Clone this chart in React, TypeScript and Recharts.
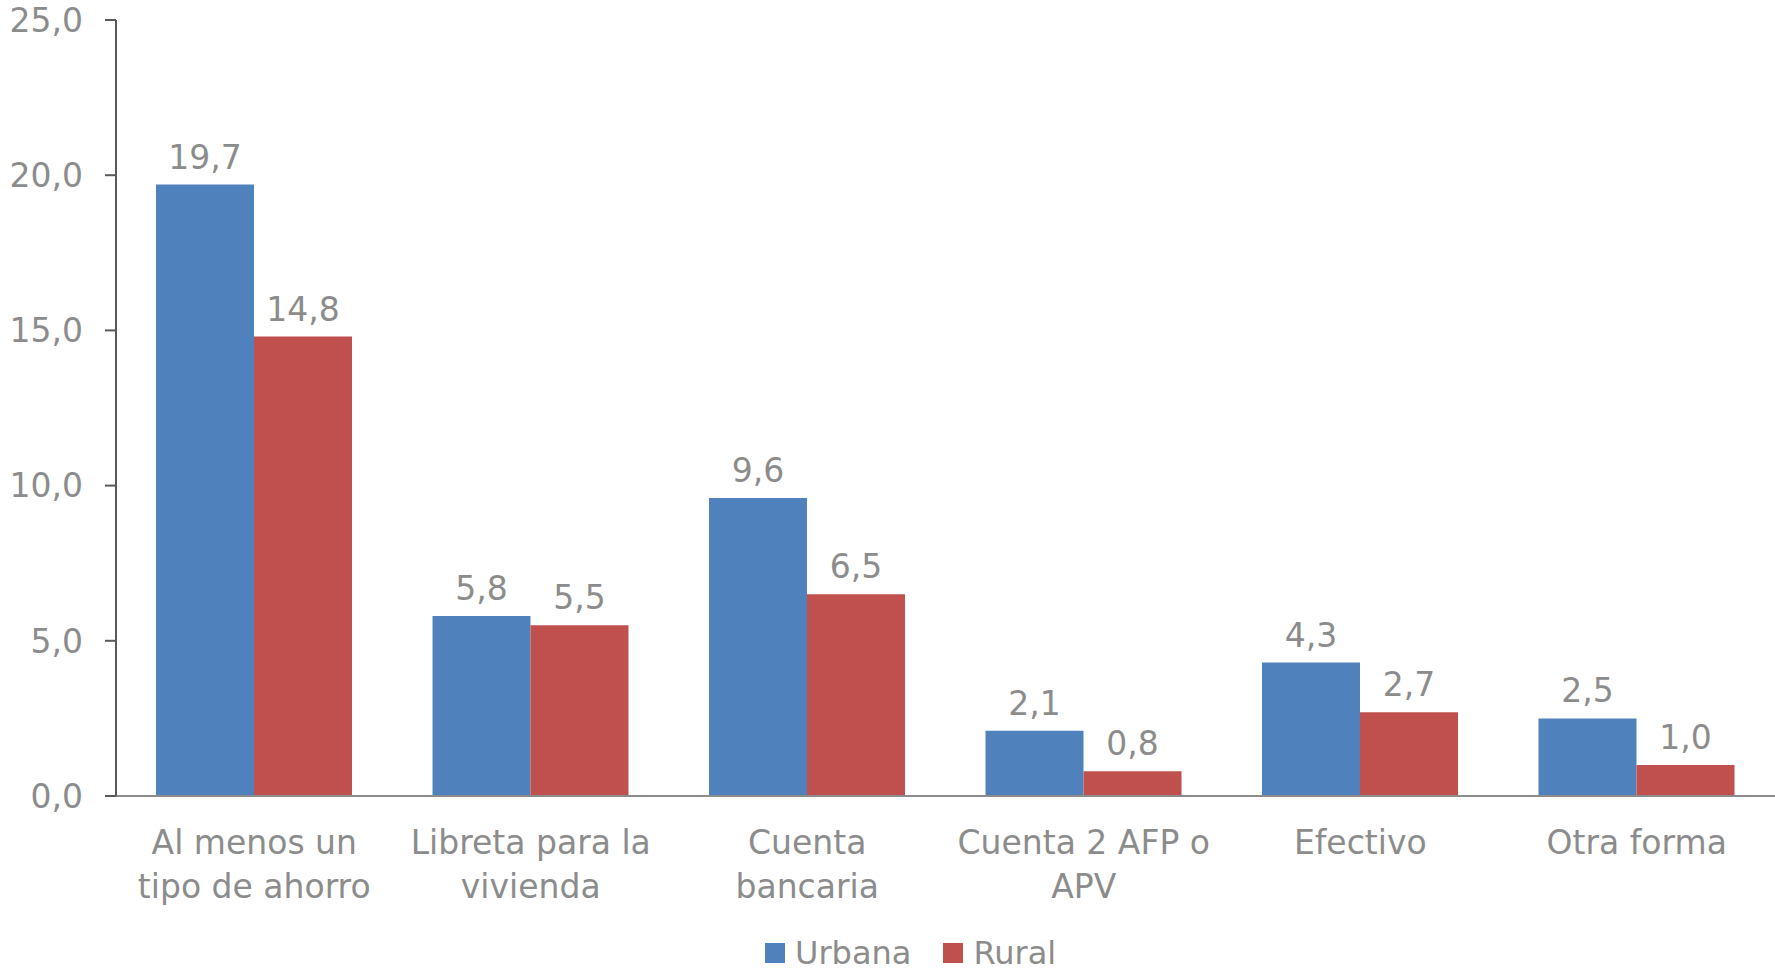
import React from "react";
import { BarChart, Bar, XAxis, YAxis, Legend, LabelList } from "recharts";

const categories = [
  "Al menos un\ntipo de ahorro",
  "Libreta para la\nvivienda",
  "Cuenta\nbancaria",
  "Cuenta 2 AFP o\nAPV",
  "Efectivo",
  "Otra forma",
];
const urbana = [19.7, 5.8, 9.6, 2.1, 4.3, 2.5];
const rural = [14.8, 5.5, 6.5, 0.8, 2.7, 1.0];
const yTicks = [0, 5, 10, 15, 20, 25];

const BLUE = "#4F81BD";
const RED = "#C0504D";
const TEXT = "#8c8c8c";
const FONT = "Verdana, 'DejaVu Sans', sans-serif";

const fmt = (v: number) => v.toFixed(1).replace(".", ",");

const rows = categories.map((name, i) => ({
  name,
  urbana: urbana[i],
  rural: rural[i],
}));

function CategoryTick({ x, y, payload }: any) {
  const lines = String(payload.value).split("\n");
  return (
    <text x={x} y={y} textAnchor="middle" fill={TEXT} fontSize={33} fontFamily={FONT}>
      {lines.map((l, i) => (
        <tspan key={i} x={x} dy={i === 0 ? 58 : 44}>
          {l}
        </tspan>
      ))}
    </text>
  );
}

function LegendBox() {
  const items = [
    { label: "Urbana", color: BLUE },
    { label: "Rural", color: RED },
  ];
  return (
    <div
      style={{
        display: "flex",
        alignItems: "center",
        height: 30,
        lineHeight: "30px",
        paddingLeft: 765,
        fontFamily: FONT,
        fontSize: 32,
        color: TEXT,
      }}
    >
      {items.map((it) => (
        <div key={it.label} style={{ display: "flex", alignItems: "center", marginRight: 32 }}>
          <span style={{ width: 20, height: 20, background: it.color, marginRight: 10, display: "inline-block" }} />
          <span>{it.label}</span>
        </div>
      ))}
    </div>
  );
}

export default function App() {
  return (
    <div style={{ position: "absolute", left: 0, top: 0, width: 1775, height: 972, background: "#fff" }}>
      <BarChart
        width={1775}
        height={972}
        data={rows}
        margin={{ top: 20, right: 0, left: 0, bottom: 0 }}
        barCategoryGap={40}
        barGap={0}
      >
        <XAxis
          dataKey="name"
          height={146}
          tickLine={false}
          tickSize={0}
          tickMargin={0}
          interval={0}
          axisLine={{ stroke: "#8c8c8c", strokeWidth: 2 }}
          tick={<CategoryTick />}
        />
        <YAxis
          width={116}
          domain={[0, 25]}
          ticks={yTicks}
          interval={0}
          tickFormatter={fmt}
          tickSize={11}
          tickMargin={22}
          axisLine={{ stroke: "#595959", strokeWidth: 2 }}
          tickLine={{ stroke: "#595959", strokeWidth: 2 }}
          tick={{ fill: TEXT, fontSize: 33, fontFamily: FONT }}
        />
        <Legend
          verticalAlign="bottom"
          wrapperStyle={{ left: 0, width: 1775, top: 938 }}
          content={() => <LegendBox />}
        />
        <Bar dataKey="urbana" name="Urbana" fill={BLUE} isAnimationActive={false}>
          <LabelList
            dataKey="urbana"
            position="top"
            offset={16}
            formatter={(v: any) => fmt(Number(v))}
            fill={TEXT}
            fontSize={33}
            fontFamily={FONT}
          />
        </Bar>
        <Bar dataKey="rural" name="Rural" fill={RED} isAnimationActive={false}>
          <LabelList
            dataKey="rural"
            position="top"
            offset={16}
            formatter={(v: any) => fmt(Number(v))}
            fill={TEXT}
            fontSize={33}
            fontFamily={FONT}
          />
        </Bar>
      </BarChart>
    </div>
  );
}
